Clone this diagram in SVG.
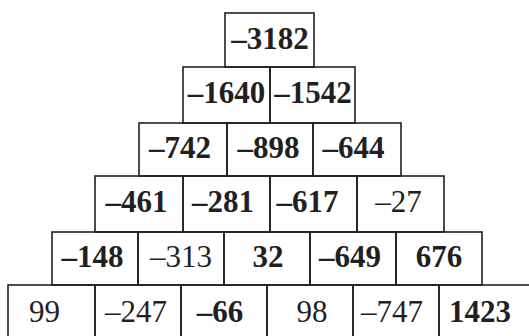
<svg xmlns="http://www.w3.org/2000/svg" width="529" height="336" viewBox="0 0 529 336">
<style>
rect{fill:none;stroke:#231f20;stroke-width:1.6}
text{font-family:"Liberation Serif","Times New Roman",serif;font-size:31px;fill:#231f20;text-anchor:middle}
.b{font-weight:bold}
</style>
<rect x="0" y="0" width="529" height="336" style="fill:#fff;stroke:none"/>
<g id="r1c1"><rect x="225" y="13" width="89" height="54"/><text class="b" x="270" y="49">–3182</text></g>
<g id="r2c1"><rect x="183" y="67" width="87" height="56"/><text class="b" x="226.5" y="103">–1640</text></g>
<g id="r2c2"><rect x="270" y="67" width="85" height="56"/><text class="b" x="313" y="103">–1542</text></g>
<g id="r3c1"><rect x="139" y="123" width="88" height="53"/><text class="b" x="180" y="157.5">–742</text></g>
<g id="r3c2"><rect x="227" y="123" width="86" height="53"/><text class="b" x="268.5" y="157.5">–898</text></g>
<g id="r3c3"><rect x="313" y="123" width="88" height="53"/><text class="b" x="353.5" y="157.5">–644</text></g>
<g id="r4c1"><rect x="95" y="176" width="88" height="56"/><text class="b" x="136.5" y="212">–461</text></g>
<g id="r4c2"><rect x="183" y="176" width="87" height="56"/><text class="b" x="223" y="212">–281</text></g>
<g id="r4c3"><rect x="270" y="176" width="87" height="56"/><text class="b" x="307.5" y="212">–617</text></g>
<g id="r4c4"><rect x="357" y="176" width="87" height="56"/><text x="398.5" y="212">–27</text></g>
<g id="r5c1"><rect x="52" y="232" width="86" height="53"/><text class="b" x="92.5" y="267">–148</text></g>
<g id="r5c2"><rect x="138" y="232" width="86" height="53"/><text x="181" y="267">–313</text></g>
<g id="r5c3"><rect x="224" y="232" width="86" height="53"/><text class="b" x="268" y="267">32</text></g>
<g id="r5c4"><rect x="310" y="232" width="86" height="53"/><text class="b" x="350" y="267">–649</text></g>
<g id="r5c5"><rect x="396" y="232" width="86" height="53"/><text class="b" x="439" y="267">676</text></g>
<g id="r6c1"><rect x="8" y="285" width="87" height="60"/><text x="44.5" y="322">99</text></g>
<g id="r6c2"><rect x="95" y="285" width="86" height="60"/><text x="136" y="322">–247</text></g>
<g id="r6c3"><rect x="181" y="285" width="86" height="60"/><text class="b" x="220" y="322">–66</text></g>
<g id="r6c4"><rect x="267" y="285" width="86" height="60"/><text x="312" y="322">98</text></g>
<g id="r6c5"><rect x="353" y="285" width="86" height="60"/><text x="392" y="322">–747</text></g>
<g id="r6c6"><rect x="439" y="285" width="100" height="60"/><text class="b" x="480" y="322">1423</text></g>
<g id="connectors"/>
</svg>
